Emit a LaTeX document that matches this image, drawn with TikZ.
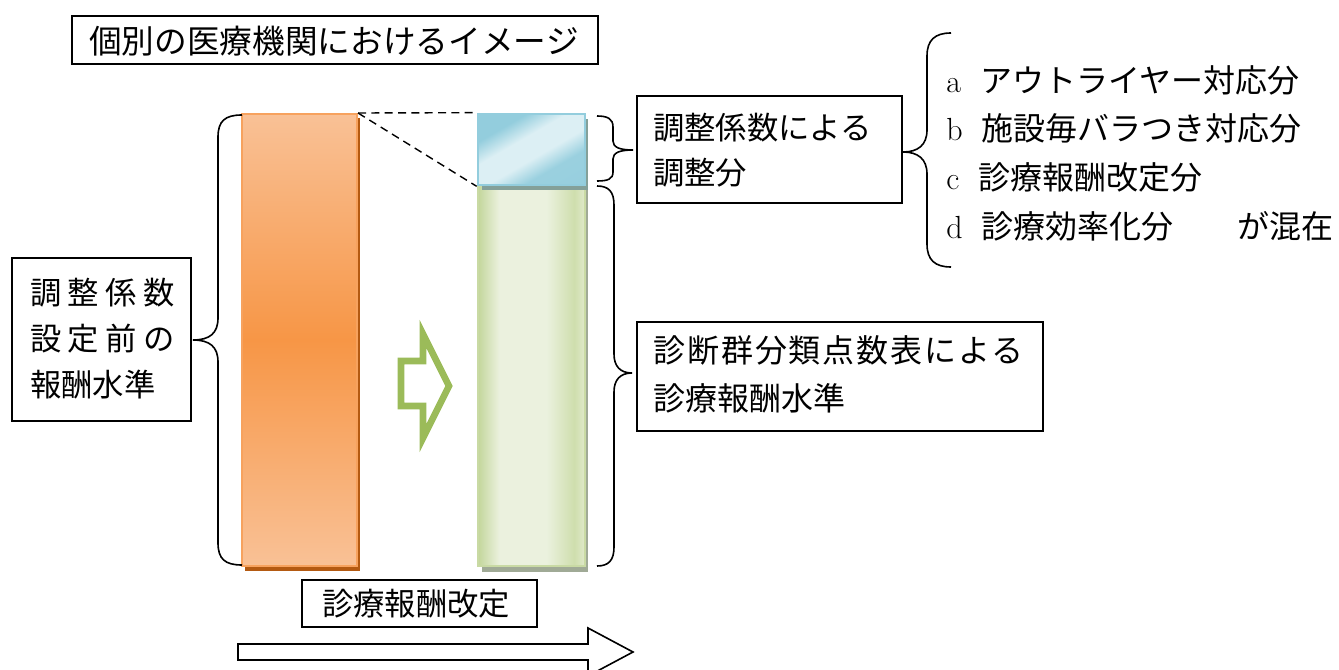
\documentclass[tikz,border=0pt]{standalone}
\usepackage{fontspec}
\newfontfamily\jp{Noto Sans CJK JP}
\usetikzlibrary{fit}
\definecolor{oLight}{HTML}{F9C196}
\definecolor{oMid}{HTML}{F79646}
\definecolor{oEdge}{HTML}{F7A25E}
\definecolor{oShadow}{HTML}{B45A12}
\definecolor{bDark}{HTML}{93CDDD}
\definecolor{bLight}{HTML}{DCEFF4}
\definecolor{gDark}{HTML}{C3D69B}
\definecolor{gLight}{HTML}{EBF1DE}
\definecolor{gMid}{HTML}{CFDEAD}
\definecolor{gEdge}{HTML}{C9DAA4}
\definecolor{grShadow}{HTML}{A0AA96}
\definecolor{blShadow}{HTML}{84A099}
\definecolor{arrowGreen}{HTML}{9BBB59}
\pgfdeclarehorizontalshading{greenbar}{100bp}{color(0bp)=(gDark); color(25bp)=(gDark); color(35bp)=(gLight); color(57bp)=(gLight); color(70bp)=(gMid); color(75bp)=(gLight!60!gMid); color(100bp)=(gLight)}
\pgfdeclarehorizontalshading{bluebox}{100bp}{color(0bp)=(bDark); color(30bp)=(bDark); color(42bp)=(bLight); color(55bp)=(bLight); color(66bp)=(bDark!90!bLight); color(100bp)=(bDark)}
\tikzset{
  frame/.style={draw=black, line width=1.1pt, inner sep=0pt},
  jptext/.style={inner sep=0pt, anchor=west, align=left, font={\jp\fontsize{24pt}{#1}\selectfont}},
  bracket/.style={draw=black, line width=1.2pt},
  dashline/.style={draw=black, line width=1.05pt, dash pattern=on 6pt off 4pt},
}
\begin{document}
\begin{tikzpicture}[x=0.75pt,y=-0.75pt]
\clip (0,0) rectangle (1339,670);
\fill[white] (0,0) rectangle (1339,670);

% title
\node[frame, fit={(72,16) (598,64)}] (title) {};
\node[inner sep=0pt, font={\jp\fontsize{24.5pt}{30pt}\selectfont}] at (334,41) {個別の医療機関におけるイメージ};

% orange bar
\fill[oShadow] (245,118) rectangle (360,571);
\node[fit={(242,114) (357,566)}, inner sep=0pt, top color=oLight, bottom color=oLight, middle color=oMid, draw=oEdge, line width=1.5pt] (ob) {};

% blue and green bars
\fill[grShadow] (482,190) rectangle (588,572);
\node[fit={(478,186) (585,566)}, inner sep=0pt, shading=greenbar, draw=gEdge, line width=1.5pt] (gb) {};
\fill[blShadow] (482,119) rectangle (588,190);
\node[fit={(478,114) (585,185)}, inner sep=0pt, shading=bluebox, shading angle=-60, draw=bDark, line width=2pt] (bb) {};

% dashed lines
\draw[dashline] (ob.north east) -- (bb.north west);
\draw[dashline] (ob.north east) -- (bb.south west);

% green hollow arrow
\draw[draw=arrowGreen, line width=5pt, miter limit=10] (401,361) -- (423,361) -- (423,334) -- (449,386) -- (423,438) -- (423,406) -- (401,406) -- cycle;

% left box
\node[frame, fit={(12,258) (191,421)}] (lbox) {};
\node[jptext=34.5pt, font={\jp\fontsize{23.5pt}{34.5pt}\selectfont}] at (30,339) {調\hspace{4.7pt}整\hspace{4.7pt}係\hspace{4.7pt}数\\設\hspace{4.7pt}定\hspace{4.7pt}前\hspace{4.7pt}の\\報酬水準};

% left brace
\draw[bracket] (242,115) .. controls (225,115) and (218,121) .. (218,137) -- (218,318) .. controls (218,333) and (210,340) .. (193,340) .. controls (210,340) and (218,347) .. (218,362) -- (218,543) .. controls (218,559) and (225,565) .. (242,565);

% small right brace
\draw[bracket] (597,116) .. controls (608,116) and (613,119) .. (613,127) -- (613,141) .. controls (613,147) and (619,150) .. (633,150) .. controls (619,150) and (613,153) .. (613,159) -- (613,172) .. controls (613,179) and (608,181) .. (597,181);

% large right brace
\draw[bracket] (597,186) .. controls (609,186) and (614,192) .. (614,205) -- (614,354) .. controls (614,366) and (620,373) .. (632,373) .. controls (620,373) and (614,380) .. (614,392) -- (614,547) .. controls (614,560) and (609,566) .. (597,566);

% box adjustment
\node[frame, fit={(637,96) (902,203)}] (adj) {};
\node[jptext=33.75pt, font={\jp\fontsize{23.5pt}{33.75pt}\selectfont}] at (653,150) {調整係数による\\調整分};

% box DPC
\node[frame, fit={(637,322) (1043,431)}] (dpc) {};
\node[jptext=36pt] at (653,374) {{\addfontfeatures{LetterSpace=6}診断群分類点数表による}\\診療報酬水準};

% list brace
\draw[bracket] (951,33) .. controls (935,33) and (927,40) .. (927,56) -- (927,130) .. controls (927,145) and (918,152) .. (903,152) .. controls (918,152) and (927,159) .. (927,174) -- (927,244) .. controls (927,260) and (935,267) .. (951,267);

% list
\node[inner sep=0pt, anchor=west, align=left, font={\fontsize{24pt}{36.5pt}\selectfont}] (list) at (946,153) {a\hspace{0.6em}{\jp アウトライヤー対応分}\\b\hspace{0.6em}{\jp 施設毎バラつき対応分}\\c\hspace{0.6em}{\jp 診療報酬改定分}\\d\hspace{0.6em}{\jp 診療効率化分　　が混在}};

% revision box
\node[frame, fit={(302,580) (537,627)}] (rev) {};
\node[inner sep=0pt, font={\jp\fontsize{23.5pt}{30pt}\selectfont}] at (416,604) {診療報酬改定};

% big hollow arrow
\draw[draw=black, line width=1.2pt, miter limit=10] (238,644) -- (588,644) -- (588,628) -- (633,652) -- (588,676) -- (588,660) -- (238,660) -- cycle;
\end{tikzpicture}
\end{document}
